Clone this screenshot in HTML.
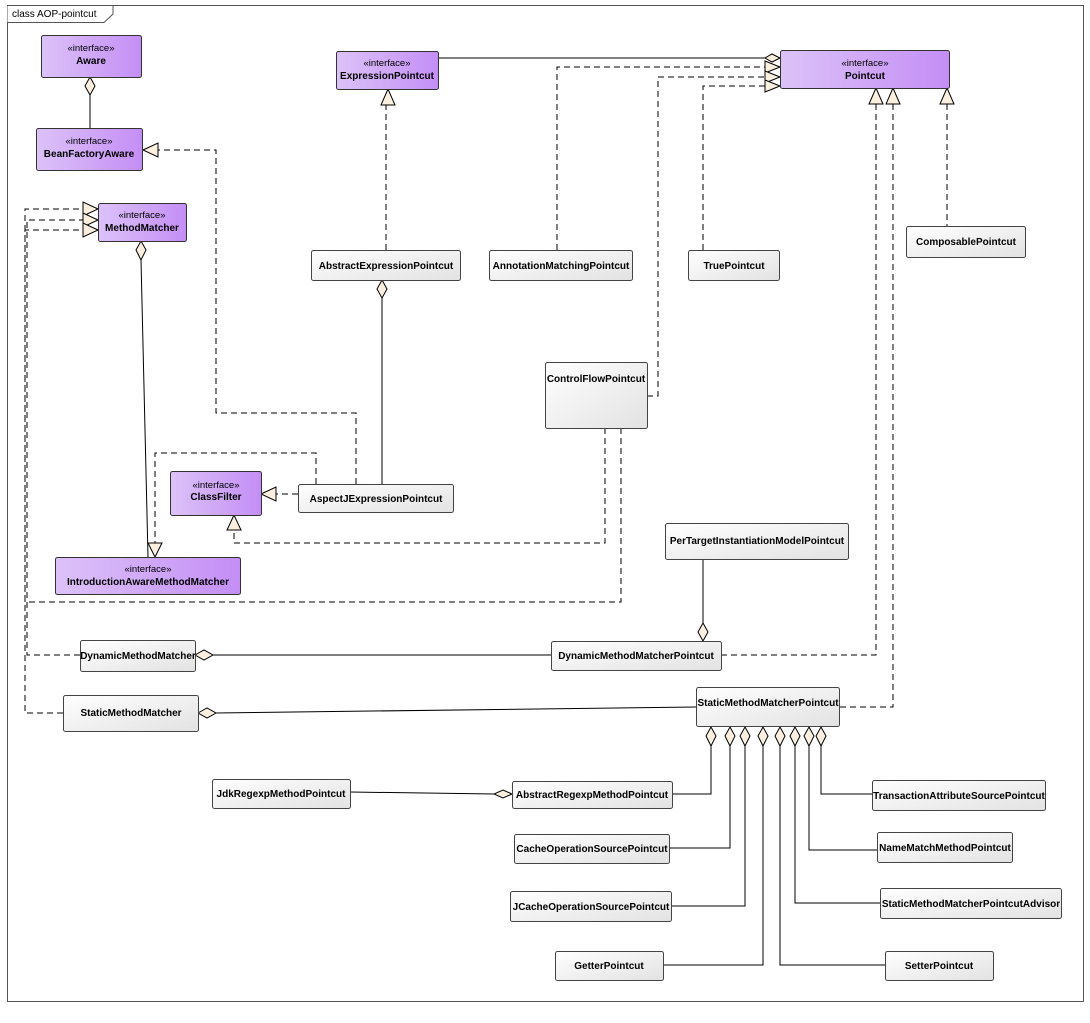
<!DOCTYPE html>
<html><head><meta charset="utf-8"><style>
html,body{margin:0;padding:0;background:#fff;}
svg{display:block;font-family:"Liberation Sans",sans-serif;}
.t{font-size:10px;font-weight:bold;fill:#000;text-anchor:middle;}
.s{font-size:9.5px;fill:#000;text-anchor:middle;}
.l{fill:none;stroke:#000;stroke-width:1;}
.d{fill:none;stroke:#000;stroke-width:1;stroke-dasharray:6,4;}
.h{fill:#fbf0e0;stroke:#000;stroke-width:1;}
</style></head><body>
<svg width="1090" height="1023" viewBox="0 0 1090 1023" xmlns="http://www.w3.org/2000/svg">
<defs>
<linearGradient id="gi" x1="0" y1="0" x2="1" y2="0"><stop offset="0" stop-color="#dcc2f8"/><stop offset="1" stop-color="#c48ef5"/></linearGradient>
<linearGradient id="gc" x1="0" y1="0" x2="1" y2="1"><stop offset="0" stop-color="#ffffff"/><stop offset="1" stop-color="#e2e2e2"/></linearGradient>
</defs>
<rect x="7.5" y="5.5" width="1076" height="996" fill="none" stroke="#555"/>
<path d="M7.5 5.5 H113 V14 L104 22.5 H7.5" fill="#fff" stroke="#555"/>
<text x="12" y="17" style="font-size:10px">class AOP-pointcut</text>

<!-- connectors -->
<g>
<path class="l" d="M90 95 V128"/><path class="h" d="M90 77 L95 86 L90 95 L85 86Z"/>
<path class="d" d="M356 484 V413 H216 V150 H158"/><path class="h" d="M143 150 L158 143 L158 157Z"/>
<path class="d" d="M63 713 H25 V209 H83"/><path class="d" d="M80 655 H27 V220 H83"/><path class="d" d="M621 428 V602 H25 V230 H83"/>
<path class="h" d="M98 209 L83 202 L83 216Z"/><path class="h" d="M98 220 L83 213 L83 227Z"/><path class="h" d="M98 230 L83 223 L83 237Z"/>
<path class="l" d="M141 260 L148 557"/><path class="h" d="M141 241 L146 250 L141 260 L136 250Z"/>
<path class="d" d="M316 484 V453 H155 V543"/><path class="h" d="M155 557 L148 543 L162 543Z"/>
<path class="d" d="M386 250 V105"/><path class="h" d="M388 89 L381 105 L395 105Z"/>
<path class="l" d="M438 58 H765"/><path class="h" d="M780 58 L772 62 L765 58 L772 54Z"/>
<path class="d" d="M557 250 V67 H765"/><path class="d" d="M647 396 H658 V77 H765"/><path class="d" d="M703 250 V86 H765"/>
<path class="h" d="M780 67 L765 61 L765 73Z"/><path class="h" d="M780 77 L765 71 L765 83Z"/><path class="h" d="M780 86 L765 80 L765 92Z"/>
<path class="d" d="M876 104 V655 H721"/><path class="d" d="M893 104 V707 H839"/><path class="d" d="M947 104 V226"/>
<path class="h" d="M876 88 L869 104 L883 104Z"/><path class="h" d="M893 88 L886 104 L900 104Z"/><path class="h" d="M947 88 L940 104 L954 104Z"/>
<path class="l" d="M382 298 V484"/><path class="h" d="M382 280 L387 289 L382 298 L377 289Z"/>
<path class="d" d="M298 494 H276"/><path class="h" d="M261 494 L276 487 L276 501Z"/>
<path class="d" d="M605 428 V543 H234 V530"/><path class="h" d="M234 515 L227 530 L241 530Z"/>
<path class="l" d="M703 559 V623"/><path class="h" d="M703 623 L708 632 L703 641 L698 632Z"/>
<path class="l" d="M213 655 H551"/><path class="h" d="M195 655 L204 650 L213 655 L204 660Z"/>
<path class="l" d="M216 713 L696 707"/><path class="h" d="M198 713 L207 708 L216 713 L207 718Z"/>
<path class="l" d="M711 746 V794 H672 M730 746 V848 H669 M745 746 V906 H671 M763 746 V965 H663 M780 746 V965 H885 M795 746 V903 H880 M809 746 V850 H877 M821 746 V794 H872"/>
<g class="h">
<path d="M711 727 L716 736 L711 746 L706 736Z"/><path d="M730 727 L735 736 L730 746 L725 736Z"/><path d="M745 727 L750 736 L745 746 L740 736Z"/><path d="M763 727 L768 736 L763 746 L758 736Z"/><path d="M780 727 L785 736 L780 746 L775 736Z"/><path d="M795 727 L800 736 L795 746 L790 736Z"/><path d="M809 727 L814 736 L809 746 L804 736Z"/><path d="M821 727 L826 736 L821 746 L816 736Z"/>
</g>
<path class="l" d="M350 792 L494 794"/><path class="h" d="M512 794 L503 798 L494 794 L503 790Z"/>
</g>

<!-- interface boxes -->
<g stroke="#333" stroke-width="1" fill="url(#gi)">
<rect x="41.5" y="35.5" width="100" height="42" rx="2"/>
<rect x="36.5" y="128.5" width="106" height="42" rx="2"/>
<rect x="98.5" y="203.5" width="88" height="38" rx="2"/>
<rect x="336.5" y="51.5" width="102" height="38" rx="2"/>
<rect x="780.5" y="50.5" width="169" height="38" rx="2"/>
<rect x="170.5" y="471.5" width="91" height="44" rx="2"/>
<rect x="55.5" y="557.5" width="185" height="37" rx="2"/>
</g>
<!-- class boxes -->
<g stroke="#444" stroke-width="1" fill="url(#gc)">
<rect x="311.5" y="250.5" width="149" height="30" rx="2"/>
<rect x="489.5" y="250.5" width="143" height="30" rx="2"/>
<rect x="688.5" y="250.5" width="91" height="30" rx="2"/>
<rect x="906.5" y="226.5" width="119" height="31" rx="2"/>
<rect x="545.5" y="362.5" width="102" height="66" rx="2"/>
<rect x="298.5" y="484.5" width="155" height="28" rx="2"/>
<rect x="665.5" y="523.5" width="183" height="36" rx="2"/>
<rect x="80.5" y="640.5" width="115" height="31" rx="2"/>
<rect x="551.5" y="641.5" width="170" height="29" rx="2"/>
<rect x="63.5" y="695.5" width="135" height="36" rx="2"/>
<rect x="696.5" y="687.5" width="143" height="39" rx="2"/>
<rect x="212.5" y="779.5" width="138" height="29" rx="2"/>
<rect x="512.5" y="781.5" width="160" height="27" rx="2"/>
<rect x="514.5" y="834.5" width="155" height="29" rx="2"/>
<rect x="510.5" y="891.5" width="161" height="30" rx="2"/>
<rect x="555.5" y="951.5" width="108" height="29" rx="2"/>
<rect x="872.5" y="780.5" width="173" height="30" rx="2"/>
<rect x="877.5" y="832.5" width="135" height="30" rx="2"/>
<rect x="880.5" y="888.5" width="181" height="30" rx="2"/>
<rect x="885.5" y="951.5" width="108" height="29" rx="2"/>
</g>

<!-- labels -->
<text class="s" x="91" y="51">«interface»</text><text class="t" x="91" y="64">Aware</text>
<text class="s" x="89" y="144">«interface»</text><text class="t" x="89" y="157">BeanFactoryAware</text>
<text class="s" x="142" y="218">«interface»</text><text class="t" x="142" y="231">MethodMatcher</text>
<text class="s" x="387" y="66">«interface»</text><text class="t" x="387" y="79">ExpressionPointcut</text>
<text class="s" x="865" y="66">«interface»</text><text class="t" x="865" y="79">Pointcut</text>
<text class="s" x="216" y="488">«interface»</text><text class="t" x="216" y="500">ClassFilter</text>
<text class="s" x="148" y="572">«interface»</text><text class="t" x="148" y="585">IntroductionAwareMethodMatcher</text>
<text class="t" x="386" y="269">AbstractExpressionPointcut</text>
<text class="t" x="561" y="269">AnnotationMatchingPointcut</text>
<text class="t" x="734" y="269">TruePointcut</text>
<text class="t" x="966" y="245">ComposablePointcut</text>
<text class="t" x="596" y="382">ControlFlowPointcut</text>
<text class="t" x="376" y="502">AspectJExpressionPointcut</text>
<text class="t" x="757" y="544">PerTargetInstantiationModelPointcut</text>
<text class="t" x="138" y="659">DynamicMethodMatcher</text>
<text class="t" x="636" y="659">DynamicMethodMatcherPointcut</text>
<text class="t" x="131" y="716">StaticMethodMatcher</text>
<text class="t" x="768" y="706">StaticMethodMatcherPointcut</text>
<text class="t" x="281" y="797">JdkRegexpMethodPointcut</text>
<text class="t" x="592" y="798">AbstractRegexpMethodPointcut</text>
<text class="t" x="592" y="852">CacheOperationSourcePointcut</text>
<text class="t" x="591" y="910">JCacheOperationSourcePointcut</text>
<text class="t" x="609" y="969">GetterPointcut</text>
<text class="t" x="959" y="799">TransactionAttributeSourcePointcut</text>
<text class="t" x="945" y="851">NameMatchMethodPointcut</text>
<text class="t" x="971" y="907">StaticMethodMatcherPointcutAdvisor</text>
<text class="t" x="939" y="969">SetterPointcut</text>
</svg>
</body></html>
